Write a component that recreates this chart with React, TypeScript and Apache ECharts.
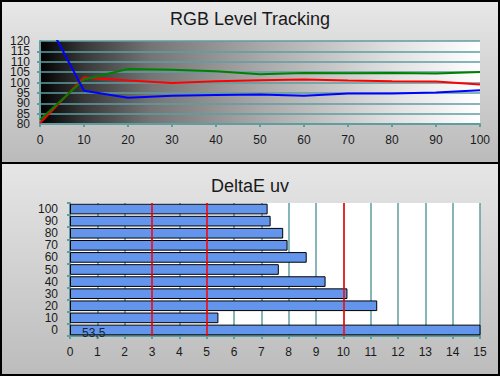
import React, { useEffect, useRef } from "react";
import * as echarts from "echarts";

const levels = [0, 10, 20, 30, 40, 50, 60, 70, 80, 90, 100];
const redLevels = [80.5, 102.4, 101, 99.8, 100.6, 101.1, 101.5, 101, 100.6, 100.5, 99];
const greenLevels = [82, 101.4, 106.5, 106.2, 105.4, 104, 104.6, 104.5, 104.6, 104.3, 105.1];
const blueLevels = [136, 96, 92.6, 93.6, 94, 94.2, 93.6, 94.7, 94.7, 95.2, 96.3];

const deltaCategories = ["0", "10", "20", "30", "40", "50", "60", "70", "80", "90", "100"];
const deltaValues = [53.5, 5.43, 11.24, 10.15, 9.35, 7.64, 8.66, 7.96, 7.8, 7.34, 7.23];
const deltaZeroLabel = "53,5";
const thresholds = [3, 5, 10];

const FONT = "Liberation Sans, Arial, sans-serif";
const TEAL = "#5f9ea0";
const TEXT = "#1a1a1a";

export default function App() {
  const ref = useRef<HTMLDivElement>(null);
  useEffect(() => {
    document.body.style.margin = "0";
    if (!ref.current) return;
    const chart = echarts.init(ref.current, null, { renderer: "svg" });
    const pair = (vals: number[]) => levels.map((l, i) => [l, vals[i]]);
    const lineSeries = (name: string, vals: number[], color: string) => ({
      type: "line",
      name,
      xAxisIndex: 0,
      yAxisIndex: 0,
      data: pair(vals),
      symbol: "none",
      clip: true,
      lineStyle: { color, width: 2 },
      z: 5,
    });
    const yLabel = {
      color: TEXT,
      fontSize: 12,
      margin: 10,
      fontFamily: FONT,
      lineHeight: 10,
    };
    chart.setOption({
      animation: false,
      textStyle: { fontFamily: FONT },
      title: [
        {
          text: "RGB Level Tracking",
          left: "center",
          top: 5,
          textStyle: { fontSize: 18, fontWeight: "normal", color: TEXT, fontFamily: FONT },
        },
        {
          text: "DeltaE uv",
          left: "center",
          top: 172,
          textStyle: { fontSize: 18, fontWeight: "normal", color: TEXT, fontFamily: FONT },
        },
      ],
      graphic: [
        {
          type: "rect",
          z: -100,
          shape: { x: 0, y: 0, width: 500, height: 163 },
          style: {
            fill: new echarts.graphic.LinearGradient(0, 0, 0, 1, [
              { offset: 0, color: "#e8e8e8" },
              { offset: 1, color: "#bababa" },
            ]),
          },
        },
        {
          type: "rect",
          z: -100,
          shape: { x: 0, y: 163, width: 500, height: 213 },
          style: {
            fill: new echarts.graphic.LinearGradient(0, 0, 0, 1, [
              { offset: 0, color: "#e6e6e6" },
              { offset: 1, color: "#bcbcbc" },
            ]),
          },
        },
        {
          type: "rect",
          z: 100,
          shape: { x: 1, y: 1, width: 498, height: 374 },
          style: { fill: "none", stroke: "#000", lineWidth: 2 },
        },
        {
          type: "line",
          z: 100,
          shape: { x1: 0, y1: 163, x2: 500, y2: 163 },
          style: { stroke: "#000", lineWidth: 2 },
        },
      ],
      grid: [
        {
          left: 40,
          top: 41,
          width: 440,
          height: 83,
          show: true,
          borderWidth: 0,
          backgroundColor: new echarts.graphic.LinearGradient(0, 0, 1, 0, [
            { offset: 0, color: "#000000" },
            { offset: 0.1, color: "#383838" },
            { offset: 0.25, color: "#747474" },
            { offset: 0.5, color: "#a8a8a8" },
            { offset: 0.8, color: "#e0e0e0" },
            { offset: 1, color: "#ffffff" },
          ]),
        },
        {
          left: 70,
          top: 203,
          width: 410,
          height: 133,
          show: true,
          borderWidth: 0,
          backgroundColor: "#ffffff",
        },
      ],
      xAxis: [
        {
          gridIndex: 0,
          type: "value",
          min: 0,
          max: 100,
          interval: 10,
          axisLine: { show: true, lineStyle: { color: TEAL, width: 2 } },
          axisTick: { show: true, length: 3, lineStyle: { color: TEAL, width: 2 } },
          axisLabel: { color: TEXT, fontSize: 12, margin: 10, fontFamily: FONT },
          splitLine: { show: false },
        },
        {
          gridIndex: 1,
          type: "value",
          min: 0,
          max: 15,
          interval: 1,
          axisLine: { show: true, lineStyle: { color: TEAL, width: 2 } },
          axisTick: { show: true, length: 3, lineStyle: { color: TEAL, width: 2 } },
          axisLabel: { color: TEXT, fontSize: 12, margin: 10, fontFamily: FONT },
          splitLine: { show: true, lineStyle: { color: TEAL, width: 1.5 } },
        },
      ],
      yAxis: [
        {
          gridIndex: 0,
          type: "value",
          position: "left",
          min: 80,
          max: 120,
          interval: 10,
          axisLine: { show: true, lineStyle: { color: TEAL, width: 2 } },
          axisTick: { show: false },
          axisLabel: { ...yLabel, showMinLabel: true, showMaxLabel: true },
          splitLine: { show: false },
        },
        {
          gridIndex: 0,
          type: "value",
          position: "left",
          offset: 0,
          min: 80,
          max: 120,
          interval: 5,
          axisLine: { show: false },
          axisTick: { show: true, length: 3, lineStyle: { color: TEAL, width: 2 } },
          axisLabel: {
            ...yLabel,
            showMinLabel: false,
            showMaxLabel: false,
            formatter: (v: number) => (v % 10 === 0 ? "" : String(v)),
          },
          splitLine: { show: true, lineStyle: { color: TEAL, width: 1.5 } },
        },
        {
          gridIndex: 1,
          type: "category",
          data: deltaCategories,
          axisLine: { show: true, lineStyle: { color: TEAL, width: 2 } },
          axisTick: { show: true, length: 3, interval: 0, lineStyle: { color: TEAL, width: 2 } },
          axisLabel: { color: TEXT, fontSize: 12, margin: 12, fontFamily: FONT, interval: 0, lineHeight: 11 },
          splitLine: { show: false },
        },
      ],
      series: [
        lineSeries("Red", redLevels, "#ff0000"),
        lineSeries("Green", greenLevels, "#008000"),
        lineSeries("Blue", blueLevels, "#0000ff"),
        {
          type: "bar",
          xAxisIndex: 1,
          yAxisIndex: 2,
          clip: true,
          barCategoryGap: "12%",
          itemStyle: { color: "#6495ed", borderColor: "#000", borderWidth: 1 },
          data: deltaValues.map((v, i) =>
            i === 0
              ? {
                  value: v,
                  label: {
                    show: true,
                    position: "insideLeft",
                    distance: 12,
                    offset: [0, 3],
                    formatter: deltaZeroLabel,
                    color: "#1c2438",
                    fontSize: 12,
                    fontFamily: FONT,
                  },
                }
              : v
          ),
          markLine: {
            silent: true,
            symbol: "none",
            label: { show: false },
            lineStyle: { color: "#ff0000", type: "solid", width: 1.5 },
            data: thresholds.map((t) => ({ xAxis: t })),
          },
          z: 3,
        },
      ],
    });
    return () => chart.dispose();
  }, []);
  return <div ref={ref} style={{ width: 500, height: 376 }} />;
}
